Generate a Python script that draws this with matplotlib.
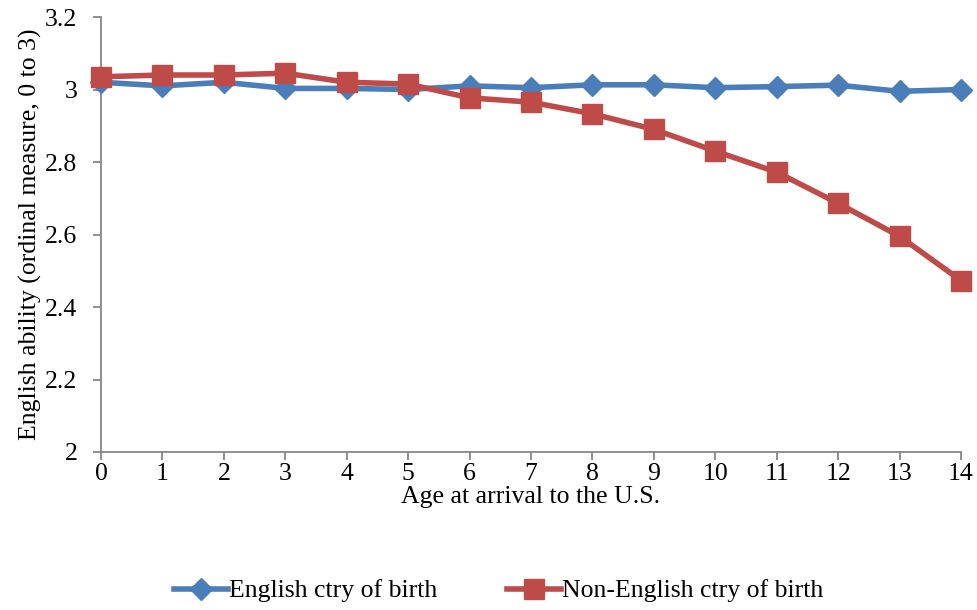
import numpy as np
import matplotlib.pyplot as plt

plt.rcParams['font.family'] = ['Liberation Serif', 'DejaVu Serif']

ages = list(range(15))
english = [3.02, 3.01, 3.02, 3.003, 3.003, 3.0, 3.01, 3.005, 3.013, 3.013,
           3.005, 3.008, 3.012, 2.995, 3.0]
non_english = [3.035, 3.04, 3.04, 3.045, 3.02, 3.015, 2.977, 2.965, 2.933, 2.89,
               2.83, 2.772, 2.686, 2.595, 2.473]

yticks = [2, 2.2, 2.4, 2.6, 2.8, 3, 3.2]
ytick_labels = ['2', '2.2', '2.4', '2.6', '2.8', '3', '3.2']

fs = 18.5

fig = plt.figure(figsize=(9.78, 6.10), dpi=100)
ax = fig.add_axes([101 / 978, 1 - 452 / 610, 860 / 978, 435 / 610])

ax.plot(ages, english, color='#4a7ebb', linewidth=4, marker='D', markersize=11,
        label='English ctry of birth', clip_on=False, zorder=3)
ax.plot(ages, non_english, color='#be4b48', linewidth=4, marker='s', markersize=15,
        label='Non-English ctry of birth', clip_on=False, zorder=4)

ax.set_xlim(0, 14)
ax.set_ylim(2, 3.2)
ax.set_xticks(ages)
ax.set_yticks(yticks)
ax.set_yticklabels(ytick_labels)

for side in ['top', 'right']:
  ax.spines[side].set_visible(False)
for side in ['left', 'bottom']:
  ax.spines[side].set_color('#868686')
  ax.spines[side].set_linewidth(1.3)
ax.tick_params(axis='both', colors='#868686', length=6, width=1.3,
               labelcolor='black', labelsize=fs, direction='out')
ax.tick_params(axis='x', pad=2)
ax.tick_params(axis='y', pad=11)

ax.set_xlabel('Age at arrival to the U.S.', fontsize=fs, labelpad=1)
ax.set_ylabel('English ability (ordinal measure, 0 to 3)', fontsize=fs, labelpad=2)

fig.legend(loc='center', bbox_to_anchor=(0.51, 1 - 591 / 610), ncol=2,
           frameon=False, fontsize=fs, handlelength=2.1, handletextpad=0.05,
           columnspacing=2.7)

fig.savefig('out.png', dpi=100)
